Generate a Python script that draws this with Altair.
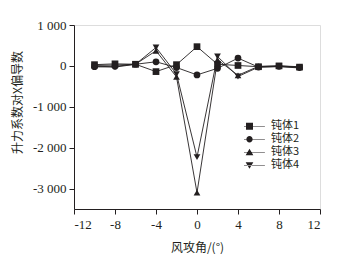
import altair as alt
import pandas as pd

angles = [-10, -8, -6, -4, -2, 0, 2, 4, 6, 8, 10]
body1 = [30, 50, 40, -140, 30, 470, 40, 10, -20, 0, -30]
body2 = [-20, -10, 40, 100, -40, -220, -60, 190, -30, -10, -40]
body3 = [10, 20, 40, 370, -270, -3100, 150, -230, -10, 0, -20]
body4 = [-20, -30, 40, 450, -200, -2230, 230, -260, -30, -20, -50]
series_names = ["钝体1", "钝体2", "钝体3", "钝体4"]
x_ticks = [-12, -10, -8, -6, -4, -2, 0, 2, 4, 6, 8, 10, 12]
y_ticks = [-3000, -2000, -1000, 0, 1000]

rows = []
for name, vals in zip(series_names, [body1, body2, body3, body4]):
    for a, v in zip(angles, vals):
        rows.append({"angle": a, "value": v, "series": name})
df = pd.DataFrame(rows)

ink = "#231f20"
plot_shapes = ["square", "circle", "triangle-up", "triangle-down"]
line_part = "M-4.4,-0.08H4.4V0.08H-4.4Z "
legend_shapes = [
    line_part + "M-1,-1H1V1H-1Z",
    line_part + "M0.9,0A0.9,0.9 0 1,1 -0.9,0A0.9,0.9 0 1,1 0.9,0Z",
    line_part + "M0,-1L1.1,0.85L-1.1,0.85Z",
    line_part + "M0,1L1.1,-0.85L-1.1,-0.85Z",
]

x_enc = alt.X(
    "angle:Q",
    scale=alt.Scale(domain=[-12, 12], nice=False),
    axis=alt.Axis(
        values=x_ticks,
        labelExpr="datum.value % 4 == 0 ? datum.value : ''",
        tickSize={"condition": {"test": "datum.value % 4 != 0", "value": 3}, "value": 5},
        title="风攻角/(°)",
        grid=False,
        labelFont="Liberation Serif",
        labelFontSize=13,
        labelColor=ink,
        titleFont="Noto Sans CJK SC",
        titleFontSize=12,
        titleFontWeight="normal",
        titleColor=ink,
        titlePadding=11,
        domainColor=ink,
        tickColor=ink,
        labelPadding=4,
    ),
)
y_enc = alt.Y(
    "value:Q",
    scale=alt.Scale(domain=[-3500, 1000], nice=False),
    axis=alt.Axis(
        values=y_ticks,
        format=",d",
        tickSize=5,
        title="升力系数对X偏导数",
        titleY=77,
        grid=False,
        labelFont="Liberation Serif",
        labelFontSize=13,
        labelColor=ink,
        titleFont="Noto Sans CJK SC",
        titleFontSize=12,
        titleFontWeight="normal",
        titleColor=ink,
        titlePadding=8,
        domainColor=ink,
        tickColor=ink,
        labelPadding=3,
    ),
)

lines = alt.Chart(df).mark_line(color=ink, strokeWidth=0.9).encode(
    x=x_enc, y=y_enc, detail="series:N"
)
points = alt.Chart(df).mark_point(filled=True, color=ink, opacity=1, size=45).encode(
    x="angle:Q",
    y="value:Q",
    shape=alt.Shape("series:N", scale=alt.Scale(domain=series_names, range=plot_shapes), legend=None),
)
legend_layer = alt.Chart(df).mark_point(filled=True, color=ink, opacity=0, size=14).encode(
    x="angle:Q",
    y="value:Q",
    shape=alt.Shape(
        "series:N",
        scale=alt.Scale(domain=series_names, range=legend_shapes),
        legend=alt.Legend(
            title=None,
            orient="none",
            legendX=170,
            legendY=95,
            symbolSize=49,
            symbolOpacity=1,
            symbolFillColor=ink,
            symbolStrokeWidth=0,
            labelFont="Noto Sans CJK SC",
            labelFontSize=11,
            labelColor=ink,
            labelOffset=16,
            rowPadding=0,
            clipHeight=12.5,
        ),
    ),
)

chart = (
    alt.layer(lines, points, legend_layer)
    .resolve_scale(shape="independent")
    .properties(
        width=246,
        height=184,
        autosize=alt.AutoSizeParams(type="none"),
        padding={"left": 66, "top": 17, "right": 17, "bottom": 45},
    )
    .configure_view(stroke=None)
    .configure(background="white", locale={"number": {"decimal": ".", "thousands": " ", "grouping": [3], "currency": ["", ""], "minus": "-"}})
)

chart.save("out.html", embed_options={"renderer": "svg", "actions": False})
